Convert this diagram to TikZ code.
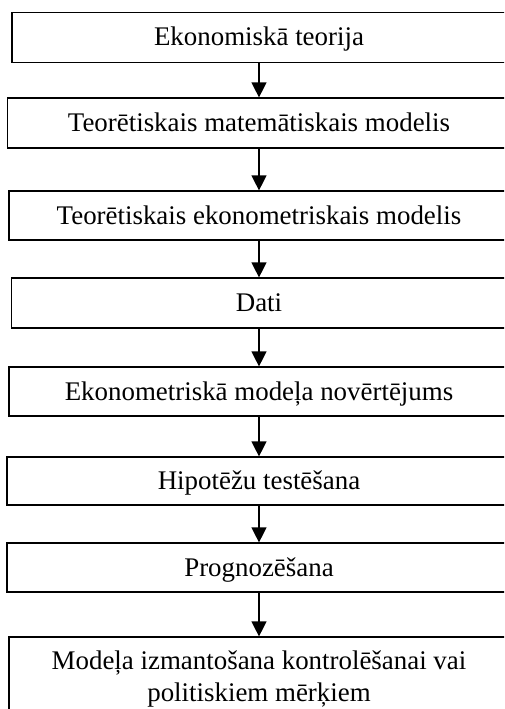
\documentclass[tikz,border=0pt]{standalone}
\usepackage{fontspec}
\setmainfont{Liberation Serif}
\usetikzlibrary{arrows.meta}
\tikzset{
  label font/.style={font=\fontsize{26.9}{32}\selectfont},
  caption/.style={label font, text height=19pt, text depth=2pt, inner sep=0pt},
  stepbox/.style={draw=black, line width=1.2pt, rectangle, inner sep=0pt},
  flow/.style={line width=1.3pt, -{Triangle[width=15pt,length=15pt]}}
}
\begin{document}
\begin{tikzpicture}[x=1pt,y=1pt]
  \useasboundingbox (0,0) rectangle (504,-709);
  \clip (0,0) rectangle (504,-709);
  % the chain of stages, top to bottom; the boxes run on past the right edge
  \node[stepbox, minimum width=580, minimum height=50] (b1) at (302,-37.5) {};
  \node[stepbox, minimum width=590, minimum height=50] (b2) at (302.5,-123) {};
  \node[stepbox, minimum width=588, minimum height=49] (b3) at (303,-215.5) {};
  \node[stepbox, minimum width=583, minimum height=50] (b4) at (303,-303) {};
  \node[stepbox, minimum width=588, minimum height=49] (b5) at (303,-391.5) {};
  \node[stepbox, minimum width=592, minimum height=48] (b6) at (303,-481) {};
  \node[stepbox, minimum width=592, minimum height=49] (b7) at (303,-567.5) {};
  \node[stepbox, minimum width=588, minimum height=100] (b8) at (303,-687) {};
  % the captions, centred on the arrow column
  \coordinate (ax) at (259,0);
  \node[caption] (t1) at (b1 -| ax) {Ekonomiskā teorija};
  \node[caption] (t2) at (b2 -| ax) {Teorētiskais matemātiskais modelis};
  \node[caption] (t3) at (b3 -| ax) {Teorētiskais ekonometriskais modelis};
  \node[caption] (t4) at (b4 -| ax) {Dati};
  \node[caption] (t5) at (b5 -| ax) {Ekonometriskā modeļa novērtējums};
  \node[caption] (t6) at (b6 -| ax) {Hipotēžu testēšana};
  \node[caption] (t7) at (b7 -| ax) {Prognozēšana};
  \node[label font, align=center, inner sep=0pt, anchor=north] (t8) at (259,-651)
    {Modeļa izmantošana kontrolēšanai vai\\politiskiem mērķiem};
  % connectors
  \draw[flow] (b1.south -| ax) -- (b2.north -| ax);
  \draw[flow] (b2.south -| ax) -- (b3.north -| ax);
  \draw[flow] (b3.south -| ax) -- (b4.north -| ax);
  \draw[flow] (b4.south -| ax) -- (b5.north -| ax);
  \draw[flow] (b5.south -| ax) -- (b6.north -| ax);
  \draw[flow] (b6.south -| ax) -- (b7.north -| ax);
  \draw[flow] (b7.south -| ax) -- (b8.north -| ax);
\end{tikzpicture}
\end{document}
